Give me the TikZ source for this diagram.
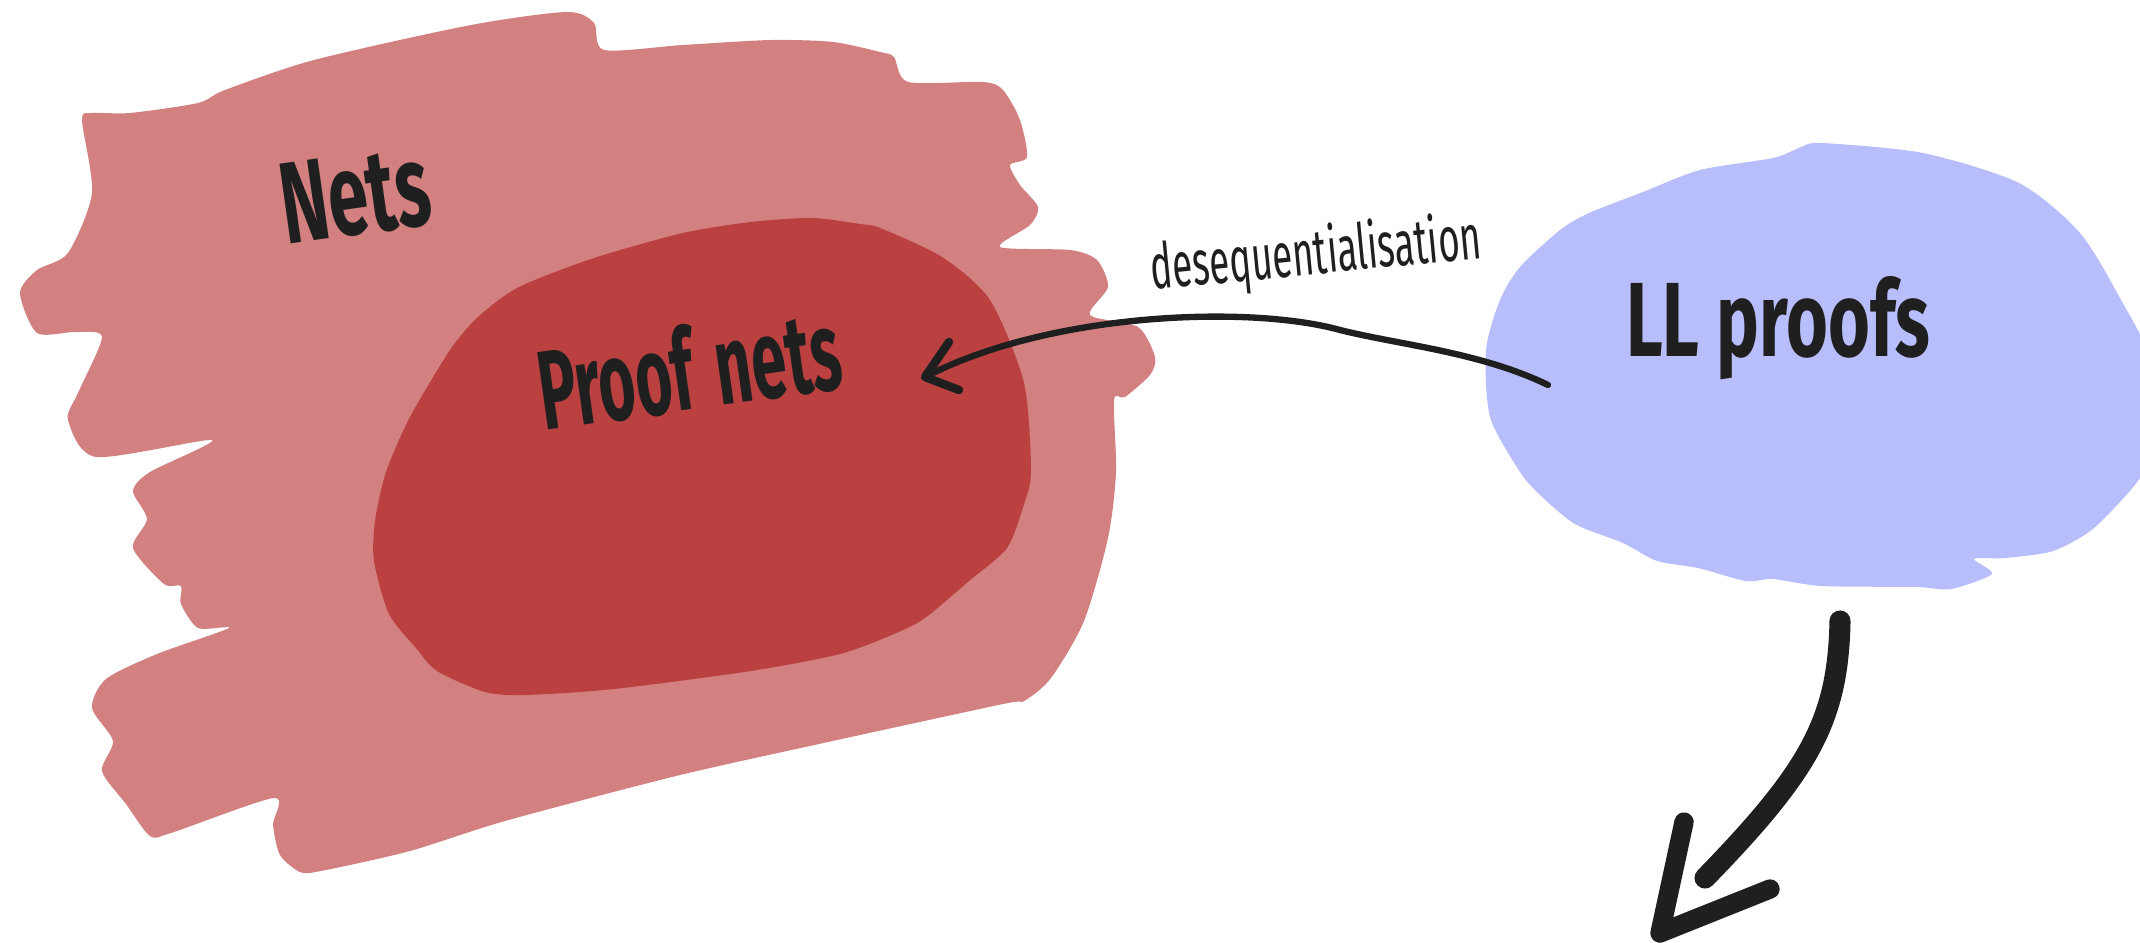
\documentclass[tikz,border=0pt]{standalone}
\usepackage{fontspec}
\setmainfont{Fira Sans}

\definecolor{netsfill}{RGB}{211,128,128}
\definecolor{proofnetfill}{RGB}{187,65,65}
\definecolor{llfill}{RGB}{184,190,252}
\definecolor{ink}{RGB}{31,31,31}

\tikzset{
  blobshape/.style={smooth cycle, tension=0.45},
  handlabel/.style={text=ink, inner sep=0pt, font=\bfseries},
  inkline/.style={draw=ink, line cap=round, line join=round},
}

\begin{document}
\begin{tikzpicture}[x=0.01cm, y=-0.01cm]
\useasboundingbox (0,0) rectangle (2140,943);
\clip (0,0) rectangle (2140,943);

% outer region: nets
\fill[netsfill] plot[blobshape] coordinates {
  (92,113) (130,113) (198,103) (225,90) (314,60) (471,25) (567,12) (594,23)
  (604,50) (683,45) (771,40) (833,42) (880,52) (894,57) (908,82) (983,82)
  (1003,90) (1020,120) (1027,157) (1010,165) (1020,185) (1038,207) (1030,225)
  (1000,247) (1070,250) (1097,260) (1108,287) (1090,315) (1138,327) (1155,357)
  (1150,375) (1125,397) (1114,400) (1116,472) (1108,538) (1084,621) (1051,678)
  (1024,701) (1003,704) (819,744) (676,776) (505,821) (410,851) (321,871)
  (300,872) (280,855) (273,825) (274,798) (171,833) (150,836) (126,804)
  (102,771) (113,741) (92,708) (106,679) (157,654) (229,628) (198,628)
  (181,604) (181,586) (164,584) (133,548) (147,519) (133,491) (150,472)
  (212,440) (96,457) (68,420) (78,393) (102,337) (75,332) (37,333) (20,293)
  (37,270) (68,253) (92,193) (82,120)};

% inner region: proof nets
\fill[proofnetfill] plot[blobshape] coordinates {
  (683,233) (751,222) (812,218) (860,224) (880,228) (942,257) (990,300)
  (1024,383) (1031,471) (1024,504) (1007,548) (969,581) (925,618) (894,634)
  (840,654) (751,671) (614,689) (526,695) (485,692) (437,671) (416,648)
  (389,614) (374,561) (375,521) (386,472) (410,417) (450,350) (478,317)
  (519,287) (594,258)};

% right region: LL proofs
\fill[llfill] plot[blobshape] coordinates {
  (1821,143) (1923,153) (2019,183) (2080,233) (2121,300) (2150,360)
  (2150,440) (2140,478) (2094,528) (2053,551) (2005,558) (1974,559)
  (1992,574) (1951,589) (1916,587) (1821,586) (1773,579) (1746,581)
  (1698,568) (1657,561) (1623,543) (1575,524) (1540,495) (1520,472)
  (1490,417) (1486,350) (1500,300) (1520,267) (1560,230) (1589,213)
  (1643,192) (1700,170) (1773,158) (1799,148)};

% labels
\node[handlabel, rotate=8] (nets) at (355,195)
  {\fontsize{33}{33}\selectfont\scalebox{0.62}[1]{Nets}};
\node[handlabel, rotate=8] (proofnets) at (689,368)
  {\fontsize{32}{32}\selectfont\scalebox{0.56}[1]{Proof\hspace{0.35em}nets}};
\node[handlabel, font=\mdseries, rotate=5.5] (deseq) at (1316,256)
  {\fontsize{18}{18}\selectfont\scalebox{0.58}[1]{desequentialisation}};
\node[handlabel] (llproofs) at (1778,328)
  {\fontsize{30}{30}\selectfont\scalebox{0.68}[1]{LL proofs}};

% desequentialisation arrow
\coordinate (deseqstart) at (1548,385);
\coordinate (deseqbend) at (1340,330);
\coordinate (deseqtip) at (925,377);
\coordinate (deseqarmA) at (949,342);
\coordinate (deseqarmB) at (959,390);
\draw[inkline, line width=1.8pt] (deseqstart)
  .. controls (1480,352) and (1400,345) .. (deseqbend)
  .. controls (1250,305) and (1050,312) .. (deseqtip);
\draw[inkline, line width=2.4pt] (deseqarmA) -- (deseqtip) -- (deseqarmB);

% downward arrow
\coordinate (downstart) at (1840,621);
\coordinate (downend) at (1705,878);
\coordinate (downtip) at (1660,933);
\coordinate (downarmA) at (1684,822);
\coordinate (downarmB) at (1770,889);
\draw[inkline, line width=6pt] (downstart)
  .. controls (1838,720) and (1810,770) .. (downend);
\draw[inkline, line width=5.5pt] (downarmA) -- (downtip) -- (downarmB);
\end{tikzpicture}
\end{document}
